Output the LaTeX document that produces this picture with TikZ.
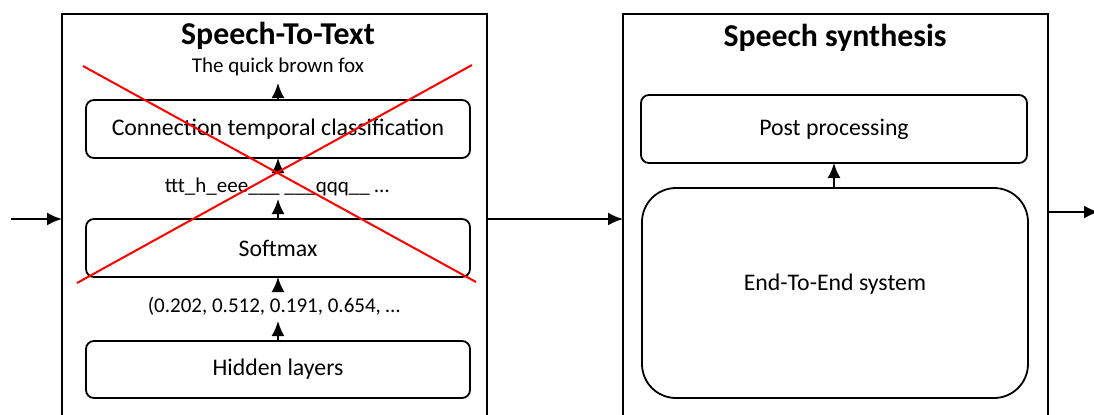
\documentclass[tikz,border=0pt]{standalone}
\usepackage{fontspec}
\setmainfont{Carlito}
\usepackage{tikz}
\usetikzlibrary{shapes, arrows.meta}
\usetikzlibrary{positioning}
\tikzstyle{frame} = [rectangle, minimum width = 212.5, minimum height = 230,
  draw = black, line width = 1pt, inner sep = 0, outer sep = 0]
\tikzstyle{layer} = [
  rectangle, rounded corners = 4,
  minimum width = 192, minimum height = 29,
  draw = black, line width = 0.9pt, text centered, outer sep = 0,
  font = \fontsize{11.9}{14}\selectfont
]
\tikzstyle{bigbox} = [layer, rounded corners = 17, minimum height = 105]
\tikzstyle{title} = [font = \fontsize{15.9}{19}\selectfont\bfseries]
\tikzstyle{lbl} = [inner sep = 0, font = \fontsize{10.5}{12.6}\selectfont]
\tikzstyle{cross} = [red, line width = 1pt]

\begin{document}
\begin{tikzpicture}[x = 0.5pt, y = -0.5pt,
    >= {Latex[length = 7.5pt, width = 6.5pt]}, line width = 1pt]
    \useasboundingbox (0, 0) rectangle (1094, 414);
    % outer blocks
    \node [frame] (stt) at (274.5, 244) {};
    \node [frame] (tts) at (835.5, 244) {};
    \node [title] (stt-title) at (278, 36) {Speech-To-Text};
    \node [title] (tts-title) at (835, 38) {Speech synthesis};
    % speech-to-text layers
    \node [layer] (ctc) at (278, 129) {Connection temporal classification};
    \node [layer] (soft) at (278, 248) {Softmax};
    \node [layer, minimum height = 28.5] (hid) at (278, 369.5) {Hidden layers};
    \node [lbl, minimum height = 15] (fox) at (278, 67) {The quick brown fox};
    \node [lbl, minimum height = 11.5] (chars) at (277, 186.5)
      {ttt\_h\_eee\_\_\_ \_\_\_qqq\_\_ …};
    \node [lbl, minimum height = 13.5] (probs) at (274, 306.5)
      {(0.202, 0.512, 0.191, 0.654, …};
    \draw [->] (hid.north) -- (hid.north |- probs.south);
    \draw [->] (soft.south |- probs.north) -- (soft.south);
    \draw [->] (soft.north) -- (soft.north |- chars.south);
    \draw [->] (ctc.south |- chars.north) -- (ctc.south);
    \draw [->] (ctc.north) -- (fox.south);
    % crossed out
    \draw [cross] (83, 66) -- (476, 282);
    \draw [cross] (472, 65) -- (77, 283);
    % speech synthesis
    \node [layer, minimum width = 193, minimum height = 34] (post) at (834, 129)
      {Post processing};
    \node [bigbox, minimum width = 193] (e2e) at (835, 293)
      {\raisebox{10.5pt}{End-To-End system}};
    \draw [->] (e2e.north -| post.south) -- (post.south);
    % signal flow
    \coordinate (in) at (11, 219);
    \coordinate (out) at (1099, 212);
    \draw [->] (in) -- (in -| stt.west);
    \draw [->] (stt.east |- in) -- (tts.west |- in);
    \draw [->] (tts.east |- out) -- (out);
  \end{tikzpicture}
\end{document}
